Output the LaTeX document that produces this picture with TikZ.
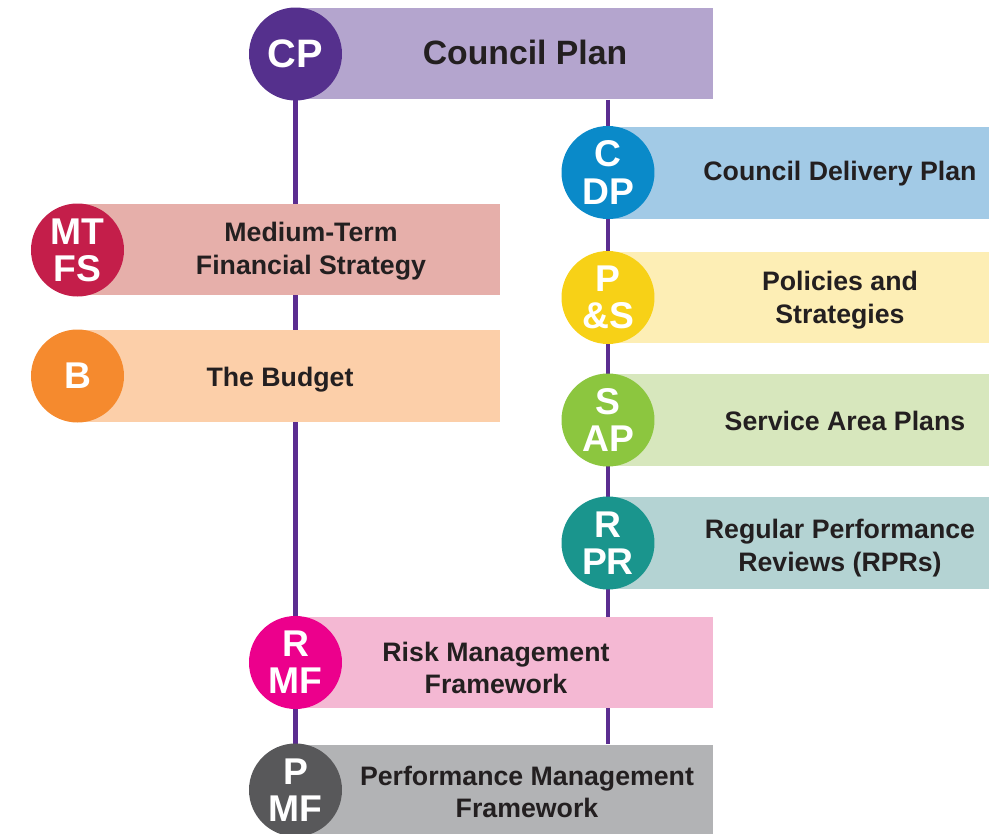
\documentclass[tikz,border=0pt]{standalone}
\usepackage{fontspec}
\setmainfont{Liberation Sans}
\usepackage{xcolor}
\usetikzlibrary{positioning, backgrounds}

% colori
\definecolor{cpdark}{HTML}{55308D}
\definecolor{cplight}{HTML}{B4A5CE}
\definecolor{cdpdark}{HTML}{0A8AC9}
\definecolor{cdplight}{HTML}{A2CAE6}
\definecolor{mtfsdark}{HTML}{C41E4A}
\definecolor{mtfslight}{HTML}{E6AFAA}
\definecolor{psdark}{HTML}{F7D117}
\definecolor{pslight}{HTML}{FDEEB5}
\definecolor{bdark}{HTML}{F58A2E}
\definecolor{blight}{HTML}{FCCFA9}
\definecolor{sapdark}{HTML}{8CC63F}
\definecolor{saplight}{HTML}{D7E7BD}
\definecolor{rprdark}{HTML}{1A958D}
\definecolor{rprlight}{HTML}{B4D3D3}
\definecolor{rmfdark}{HTML}{EC008C}
\definecolor{rmflight}{HTML}{F4B8D3}
\definecolor{pmfdark}{HTML}{58585A}
\definecolor{pmflight}{HTML}{B2B3B5}
\definecolor{spinecol}{HTML}{5B2D90}
\definecolor{labeltext}{HTML}{231F20}

\begin{document}
\begin{tikzpicture}[
    bar/.style = {rectangle, inner sep = 0, minimum height = 0.915cm},
    longbar/.style = {bar, minimum width = 3.81cm},
    midbar/.style = {bar, minimum width = 4.18cm},
    leftbar/.style = {bar, minimum width = 4.23cm},
    disc/.style = {circle, inner sep = 0, minimum size = 0.93cm, text = white,
        align = center, font = \fontsize{10.6}{10.6}\selectfont\bfseries},
    caption/.style = {align = center, text = labeltext,
        font = \fontsize{7.6}{9.2}\selectfont\bfseries},
    spine/.style = {draw = spinecol, line width = 1.2pt}
]
    \useasboundingbox (0,0) rectangle (9.89,-8.34);
    % Parametri
    \pgfmathsetmacro{\xl}{0.775}
    \pgfmathsetmacro{\xm}{2.955}
    \pgfmathsetmacro{\xr}{6.08}
    % Council Plan
    \node[midbar, fill = cplight] (cpbox) at (5.04,-0.535) {};
    \node[disc, fill = cpdark, font = \fontsize{11.3}{11}\selectfont\bfseries] (cp) at (\xm,-0.54) {CP};
    \node[caption, font = \fontsize{9.6}{11}\selectfont\bfseries] (cptext) at (5.25,-0.52) {Council Plan};
    % colonna destra
    \node[longbar, fill = cdplight] (cdpbox) at (7.985,-1.73) {};
    \node[disc, fill = cdpdark] (cdp) at (\xr,-1.725) {C\\DP};
    \node[caption] (cdptext) at (8.40,-1.74) {Council Delivery Plan};
    \node[longbar, fill = pslight] (psbox) at (7.985,-2.975) {};
    \node[disc, fill = psdark] (ps) at (\xr,-2.975) {P\\\&S};
    \node[caption] (pstext) at (8.40,-3.00) {Policies and\\Strategies};
    \node[longbar, fill = saplight] (sapbox) at (7.985,-4.20) {};
    \node[disc, fill = sapdark] (sap) at (\xr,-4.20) {S\\AP};
    \node[caption] (saptext) at (8.45,-4.21) {Service Area Plans};
    \node[longbar, fill = rprlight] (rprbox) at (7.985,-5.43) {};
    \node[disc, fill = rprdark] (rpr) at (\xr,-5.43) {R\\PR};
    \node[caption] (rprtext) at (8.40,-5.48) {Regular Performance\\Reviews (RPRs)};
    % colonna sinistra
    \node[leftbar, fill = mtfslight] (mtfsbox) at (2.885,-2.495) {};
    \node[disc, fill = mtfsdark] (mtfs) at (\xl,-2.50) {MT\\FS};
    \node[caption] (mtfstext) at (3.11,-2.51) {Medium-Term\\Financial Strategy};
    \node[leftbar, fill = blight] (bbox) at (2.885,-3.76) {};
    \node[disc, fill = bdark] (b) at (\xl,-3.76) {B};
    \node[caption] (btext) at (2.80,-3.80) {The Budget};
    % quadri
    \node[midbar, fill = rmflight] (rmfbox) at (5.04,-6.625) {};
    \node[disc, fill = rmfdark] (rmf) at (\xm,-6.625) {R\\MF};
    \node[caption] (rmftext) at (4.96,-6.68) {Risk Management\\Framework};
    \node[midbar, fill = pmflight] (pmfbox) at (5.04,-7.905) {};
    \node[disc, fill = pmfdark] (pmf) at (\xm,-7.90) {P\\MF};
    \node[caption] (pmftext) at (5.27,-7.92) {Performance Management\\Framework};
    % linee
    \begin{scope}[on background layer]
        \draw[spine] (cp.center) -- (pmf.center);
        \draw[spine] (cdp |- cpbox.south) -- (cdp |- pmfbox.north);
    \end{scope}
\end{tikzpicture}
\end{document}
